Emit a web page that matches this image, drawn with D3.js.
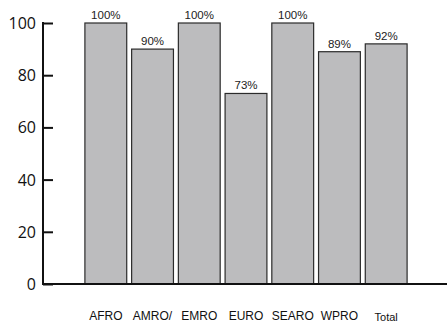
<!DOCTYPE html>
<html>
<head>
<meta charset="utf-8">
<script src="https://cdn.jsdelivr.net/npm/d3@7"></script>
<style>
  html, body { margin: 0; padding: 0; background: #fff; }
  svg { display: block; }
</style>
</head>
<body>
<svg id="chart" width="447" height="325"></svg>
<script>
// Coverage by WHO region
const regions = ["AFRO", "AMRO/", "EMRO", "EURO", "SEARO", "WPRO", "Total"];
const coverage = [100, 90, 100, 73, 100, 89, 92];
const yTicks = [0, 20, 40, 60, 80, 100];

const svg = d3.select("#chart");
const axisX = 43;
const y = d3.scaleLinear().domain([0, 100]).range([284, 23]);
const x = d3.scaleBand().domain(regions).range([83.5, 408.5]).paddingInner(0.105).paddingOuter(0.03);

// bars
svg.append("g").selectAll("rect").data(regions).join("rect")
  .attr("x", d => x(d))
  .attr("y", (d, i) => y(coverage[i]))
  .attr("width", x.bandwidth())
  .attr("height", (d, i) => y(0) - y(coverage[i]))
  .attr("fill", "#bcbcbe")
  .attr("stroke", "#2b2b2b")
  .attr("stroke-width", 1.2);

// value labels
svg.append("g").selectAll("text").data(regions).join("text")
  .attr("x", d => x(d) + x.bandwidth() / 2)
  .attr("y", (d, i) => y(coverage[i]) - 4)
  .attr("text-anchor", "middle")
  .attr("font-family", "Liberation Sans, Arial, sans-serif")
  .attr("font-size", 11.5)
  .attr("fill", "#222")
  .text((d, i) => coverage[i] + "%");

// y axis with inward ticks
const yAxis = d3.axisRight(y).tickValues(yTicks).tickSize(10).tickFormat("");
const gy = svg.append("g").attr("transform", `translate(${axisX},0)`).call(yAxis);
gy.select(".domain").remove();
gy.selectAll(".tick line").attr("stroke", "#111").attr("stroke-width", 2);
svg.append("line")
  .attr("x1", axisX).attr("x2", axisX)
  .attr("y1", y(100) - 1).attr("y2", y(0) + 1)
  .attr("stroke", "#111").attr("stroke-width", 2);

svg.append("g").selectAll("text").data(yTicks).join("text")
  .attr("x", 36)
  .attr("y", d => y(d) + 6)
  .attr("text-anchor", "end")
  .attr("font-family", "Open Sans, sans-serif")
  .attr("font-size", 16)
  .attr("fill", "#111")
  .text(d => d);

// baseline
svg.append("line")
  .attr("x1", axisX - 1).attr("x2", 447)
  .attr("y1", y(0)).attr("y2", y(0))
  .attr("stroke", "#111").attr("stroke-width", 2);

// category labels
svg.append("g").selectAll("text").data(regions).join("text")
  .attr("x", d => x(d) + x.bandwidth() / 2)
  .attr("y", d => d === "Total" ? 321 : 320)
  .attr("text-anchor", "middle")
  .attr("font-family", "Liberation Sans, Arial, sans-serif")
  .attr("font-size", d => d === "Total" ? 11 : 12)
  .attr("fill", "#111")
  .text(d => d);
</script>
</body>
</html>
